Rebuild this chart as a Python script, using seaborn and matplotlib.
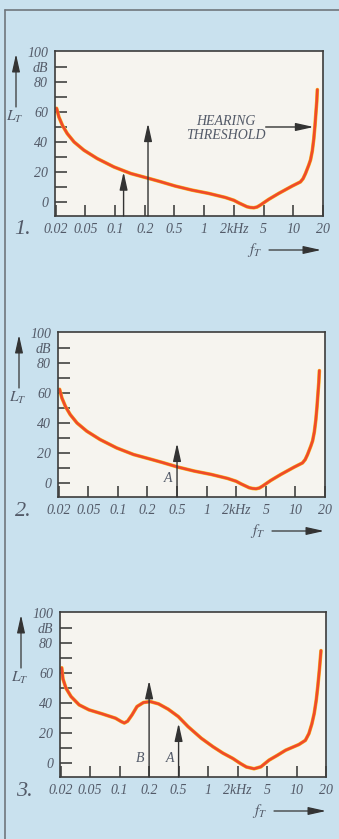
import numpy as np
import matplotlib
matplotlib.use("Agg")
import matplotlib.pyplot as plt
from matplotlib.lines import Line2D
import seaborn as sns

W, H = 339, 839

# frequency axis (kHz) - the chart puts these at equal spacing
tick_freqs = [0.02, 0.05, 0.1, 0.2, 0.5, 1, 2, 5, 10, 20]
tick_labels = ["0.02", "0.05", "0.1", "0.2", "0.5", "1", "2kHz", "5", "10", "20"]

# threshold in quiet (panels 1 and 2)
quiet_f = [0.0206, 0.0221, 0.0247, 0.0286, 0.0353, 0.0478, 0.066, 0.0973,
           0.1444, 0.2274, 0.3162, 0.5105, 0.7526, 1.11, 1.636, 2.0, 2.316,
           2.993, 3.311, 3.695, 4.087, 4.521, 5.626, 7.12, 9.727, 11.81, 12.57,
           13.29, 14.34, 14.95, 15.58, 16.13, 16.59, 16.93, 17.29, 17.53]
quiet_db = [62.5, 56.7, 51, 45.6, 40, 34.5, 28.9, 23.3,
            18.9, 15.6, 13.6, 10.5, 7.8, 5.6, 2.9, 1.0, -0.7,
            -3.3, -3.8, -4.0, -3.5, -2.2, 1.6, 5.6, 10.5, 13.3, 15.5,
            18.9, 24.5, 28, 34, 42, 51, 59, 67, 75]

# masked threshold (panel 3)
masked_f = [0.0207, 0.0215, 0.0236, 0.0276, 0.0356, 0.0482, 0.0664, 0.0908,
            0.1042, 0.1117, 0.1206, 0.1338, 0.1505, 0.1753, 0.2075, 0.2681,
            0.3628, 0.4954, 0.6242, 0.8527, 1.125, 1.414, 1.79, 2.192, 2.633,
            3.341, 4.125, 5.249, 6.373, 7.738, 10.57, 12.31, 13.38, 14.34,
            15.16, 15.91, 16.47, 17.17, 17.78]
masked_db = [63.5, 56, 49.9, 44.3, 38.7, 35.4, 32.7, 29.8,
             27.5, 26.6, 27.8, 32, 37.6, 40.3, 40.9, 39.4,
             35.8, 30.9, 24.2, 16.4, 10.7, 6.5, 2.9, -0.5, -2.8,
             -4, -2.7, 1.8, 5, 8.4, 12.2, 15, 19.5, 26,
             33, 42, 50.7, 63, 75]

# tone arrows (frequency kHz, level dB, label)
p1_arrow_f = [0.122, 0.221]
p1_arrow_db = [20, 52.5]
p2_arrow_f = [0.5]
p2_arrow_db = [26.5]
p2_arrow_lab = ["A"]
p3_arrow_f = [0.2, 0.5]
p3_arrow_db = [55, 26.5]
p3_arrow_lab = ["B", "A"]

y_major = [0, 20, 40, 60, 80, 90, 100]
y_major_lab = ["0", "20", "40", "60", "80", "dB", "100"]
y_minor = [10, 30, 50, 70]

BG = "#c9e1ee"
PLOT_BG = "#f6f4ef"
TXT = "#535a68"
INK = "#333333"
CURVE = "#ef4a2b"
CURVE_EDGE = "#f7b81f"

LOG_EXT = np.r_[np.log10(0.02) - 2, np.log10(tick_freqs), np.log10(20) + 2]
IDX_EXT = np.r_[-2 / np.log10(2.5), np.arange(10), 9 + 2 / np.log10(2)]


def fwd(f):
    f = np.asarray(f, dtype=float)
    return np.interp(np.log10(np.clip(f, 1e-9, None)), LOG_EXT, IDX_EXT)


def inv(i):
    return 10 ** np.interp(np.asarray(i, dtype=float), IDX_EXT, LOG_EXT)


sns.set_theme(style="ticks")
plt.rcParams["font.family"] = ["Liberation Serif", "DejaVu Serif"]
plt.rcParams["font.style"] = "italic"
plt.rcParams["mathtext.fontset"] = "stix"

fig = plt.figure(figsize=(W / 100, H / 100), dpi=100, facecolor=BG)


def fp(x, y):
    return (x, H - y)


def arrow(ax, start, end, coords, lw=0.9):
    ax.annotate("", xy=end, xytext=start, xycoords=coords, textcoords=coords,
                annotation_clip=False,
                arrowprops=dict(arrowstyle="-|>,head_length=0.9,head_width=0.2",
                                mutation_scale=12, color=INK, lw=lw,
                                shrinkA=0, shrinkB=0))


# panel boxes in pixels: left, top, right, bottom; x of the panel number
rects = [(55, 51, 323, 216), (58, 332, 325, 497), (60, 612, 326, 777)]
num_x = [23, 23, 24]
curves = [(quiet_f, quiet_db), (quiet_f, quiet_db), (masked_f, masked_db)]

axes = []
for n, ((l, t, r, b), nx, (cf, cd)) in enumerate(zip(rects, num_x, curves), start=1):
    ax = fig.add_axes([l / W, 1 - b / H, (r - l) / W, (b - t) / H])
    axes.append(ax)
    ax.set_facecolor(PLOT_BG)
    ax.set_xscale("function", functions=(fwd, inv))
    ax.set_xlim(0.0196, 19.9)
    ax.set_ylim(-9.5, 100.8)

    sns.lineplot(x=cf, y=cd, ax=ax, sort=False, estimator=None,
                 color=CURVE_EDGE, lw=2.6, solid_joinstyle="round")
    sns.lineplot(x=cf, y=cd, ax=ax, sort=False, estimator=None,
                 color=CURVE, lw=1.9, solid_joinstyle="round")

    ax.set_xticks(tick_freqs)
    ax.set_xticklabels(tick_labels)
    ax.set_yticks(y_major)
    ax.set_yticklabels(y_major_lab)
    ax.set_yticks(y_minor, minor=True)
    ax.xaxis.set_minor_locator(matplotlib.ticker.NullLocator())
    ax.tick_params(axis="both", which="both", direction="in", color=INK,
                   width=1.1, labelcolor=TXT, labelsize=10)
    ax.tick_params(axis="y", which="both", length=8.5, pad=5)
    ax.tick_params(axis="x", length=8, pad=5)
    ax.yaxis.get_major_ticks()[-1].tick1line.set_visible(False)
    for s in ax.spines.values():
        s.set_color("#3c3c3c")
        s.set_linewidth(1.2)
    ax.set_xlabel("")
    ax.set_ylabel("")

    # panel number
    ax.annotate(f"{n}.", fp(nx, b + 14), xycoords="figure pixels",
                ha="center", va="center", fontsize=16, color=TXT,
                annotation_clip=False)

    # L_T arrow and label
    ax_x = l - 39
    arrow(ax, fp(ax_x, t + 56), fp(ax_x, t + 3), "figure pixels")
    ax.annotate(r"$L_T$", fp(ax_x - 1, t + 66), xycoords="figure pixels",
                ha="center", va="center", fontsize=11, color=TXT,
                annotation_clip=False)

    # f_T label and arrow
    ax.annotate(r"$f_T$", fp(l + 200, b + 34), xycoords="figure pixels",
                ha="center", va="center", fontsize=11, color=TXT,
                annotation_clip=False)
    arrow(ax, fp(l + 214, b + 34), fp(l + 266, b + 34), "figure pixels")

ax1, ax2, ax3 = axes

for f, d in zip(p1_arrow_f, p1_arrow_db):
    arrow(ax1, (f, -9.5), (f, d), "data", lw=1.0)
arrow(ax1, (5.25, 50), (16.1, 50), "data", lw=1.0)
ax1.text(1.65, 49, "HEARING\nTHRESHOLD", ha="center", va="center",
         fontsize=10, color=TXT, linespacing=1.15)

for ax, fs, ds, labs in [(ax2, p2_arrow_f, p2_arrow_db, p2_arrow_lab),
                         (ax3, p3_arrow_f, p3_arrow_db, p3_arrow_lab)]:
    for f, d, lab in zip(fs, ds, labs):
        arrow(ax, (f, -9.5), (f, d), "data", lw=1.0)
        ax.annotate(lab, (f, 2.8), xytext=(-6.5, 0), textcoords="offset points",
                    ha="center", va="center", fontsize=10, color=TXT)

# outer frame of the figure box (left and top edges)
fig.add_artist(Line2D([5 / W, 5 / W], [0, 1 - 10 / H], transform=fig.transFigure,
                      color="#6f777d", lw=1.2))
fig.add_artist(Line2D([5 / W, 1], [1 - 10 / H, 1 - 10 / H], transform=fig.transFigure,
                      color="#6f777d", lw=1.2))

fig.savefig("out.png", dpi=100, facecolor=BG)
